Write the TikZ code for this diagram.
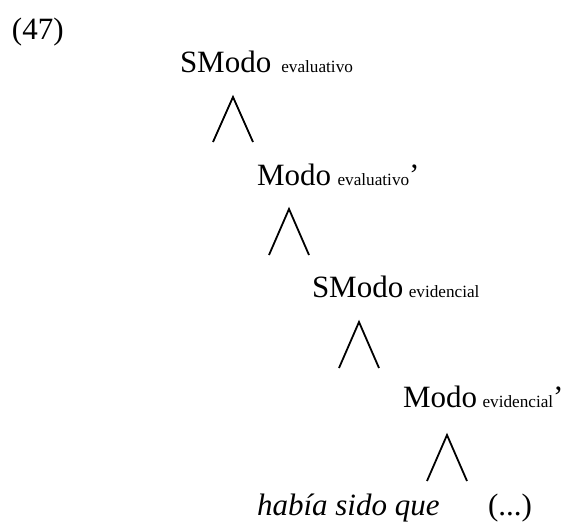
\documentclass[tikz,border=0pt]{standalone}
\usepackage{fontspec}
\setmainfont{Liberation Serif}
\newcommand{\bigtxt}{\fontsize{31}{36}\selectfont}
\newcommand{\subtxt}{\fontsize{17.2}{20}\selectfont}
\tikzset{
  label/.style={anchor=base west, inner sep=0pt, outer sep=0pt, font=\bigtxt},
  branch/.style={line width=1.8pt, line join=miter},
}
\begin{document}
\begin{tikzpicture}[x=1pt, y=-1pt]
\useasboundingbox (0,0) rectangle (565,530);

% example number
\node[label] (num) at (12,39) {(47)};

% labels of the projections, top to bottom
\node[label] (smeva) at (180,72) {SModo\hspace{10pt}{\subtxt evaluativo}};
\node[label] (meva)  at (257,185) {Modo\hspace{6.5pt}{\subtxt evaluativo}’};
\node[label] (smevi) at (312,297) {SModo\hspace{5.5pt}{\subtxt evidencial}};
\node[label] (mevi)  at (403,407) {Modo\hspace{5.5pt}{\subtxt evidencial}’};
\node[label] (lex)   at (257,515) {\itshape había sido que};
\node[label] (rest)  at (488,515) {(...)};

% branching points
\coordinate (a1) at (233,97);  \coordinate (l1) at (213,142); \coordinate (r1) at (253,142);
\coordinate (a2) at (289,209); \coordinate (l2) at (269,255); \coordinate (r2) at (309,255);
\coordinate (a3) at (359,322); \coordinate (l3) at (339,368); \coordinate (r3) at (379,368);
\coordinate (a4) at (447,435); \coordinate (l4) at (427,481); \coordinate (r4) at (467,481);

\draw[branch] (l1) -- (a1) -- (r1);
\draw[branch] (l2) -- (a2) -- (r2);
\draw[branch] (l3) -- (a3) -- (r3);
\draw[branch] (l4) -- (a4) -- (r4);
\end{tikzpicture}
\end{document}
